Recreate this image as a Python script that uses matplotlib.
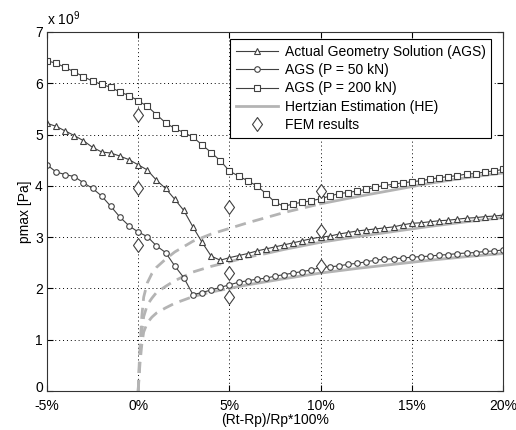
import numpy as np
import matplotlib
matplotlib.use("Agg")
import matplotlib.pyplot as plt
import matplotlib.transforms as mtrans
from matplotlib.lines import Line2D
from matplotlib.path import Path

plt.rcParams['font.family'] = ['Liberation Sans', 'DejaVu Sans']
plt.rcParams['mathtext.default'] = 'regular'

# x positions of the AGS points, in %
x_ags = np.arange(-5, 20.5, 0.5)

# AGS, P = 100 kN (triangles)
ags_100 = [5.22, 5.16, 5.07, 4.98, 4.88, 4.75, 4.66, 4.64, 4.58, 4.51,
           4.41, 4.31, 4.11, 3.95, 3.74, 3.52, 3.20, 2.90, 2.63, 2.55,
           2.60, 2.64, 2.68, 2.73, 2.77, 2.81, 2.85, 2.89, 2.93, 2.97,
           3.00, 3.02, 3.06, 3.09, 3.12, 3.14, 3.16, 3.18, 3.20, 3.24,
           3.27, 3.28, 3.30, 3.32, 3.33, 3.35, 3.37, 3.38, 3.40, 3.41, 3.43]
# AGS, P = 50 kN (circles)
ags_50 = [4.41, 4.27, 4.22, 4.18, 4.06, 3.95, 3.80, 3.60, 3.39, 3.22,
          3.10, 3.01, 2.83, 2.70, 2.44, 2.21, 1.88, 1.92, 1.97, 2.02,
          2.07, 2.12, 2.15, 2.18, 2.20, 2.24, 2.27, 2.30, 2.33, 2.36,
          2.41, 2.42, 2.44, 2.47, 2.49, 2.52, 2.55, 2.57, 2.58, 2.59,
          2.61, 2.62, 2.63, 2.65, 2.66, 2.68, 2.69, 2.70, 2.72, 2.73, 2.75]
# AGS, P = 200 kN (squares)
ags_200 = [6.44, 6.39, 6.31, 6.22, 6.13, 6.04, 5.98, 5.92, 5.83, 5.76,
           5.66, 5.55, 5.39, 5.23, 5.12, 5.04, 4.95, 4.80, 4.65, 4.49,
           4.29, 4.19, 4.10, 4.00, 3.85, 3.68, 3.60, 3.65, 3.68, 3.71,
           3.75, 3.80, 3.85, 3.87, 3.90, 3.93, 3.97, 4.01, 4.03, 4.06,
           4.08, 4.10, 4.13, 4.16, 4.18, 4.20, 4.23, 4.24, 4.27, 4.29, 4.32]

# Hertzian estimation
x_he = [0, 0.05, 0.1, 0.2, 0.3, 0.5, 0.75, 1, 1.5, 2, 3, 4, 5, 6, 7, 8,
        10, 12, 14, 16, 18, 20]
he_50 = [0, 0.30, 0.55, 0.92, 1.15, 1.33, 1.44, 1.52, 1.62, 1.71, 1.84,
         1.93, 2.00, 2.07, 2.13, 2.19, 2.30, 2.39, 2.47, 2.55, 2.62, 2.68]
he_100 = [0, 0.38, 0.69, 1.16, 1.45, 1.68, 1.81, 1.92, 2.04, 2.15, 2.32,
          2.43, 2.52, 2.61, 2.68, 2.76, 2.90, 3.01, 3.11, 3.21, 3.30, 3.38]
he_200 = [0, 0.48, 0.87, 1.46, 1.83, 2.11, 2.29, 2.41, 2.57, 2.71, 2.92,
          3.06, 3.17, 3.28, 3.38, 3.48, 3.65, 3.79, 3.92, 4.05, 4.16, 4.25]
# index in x_he where the dashed part ends (5%, 7%, 10%)
he_cut = [12, 14, 16]

# FEM results
x_fem = [0, 0, 0, 5, 5, 5, 10, 10, 10]
fem = [5.38, 3.96, 2.84, 3.58, 2.31, 1.84, 3.90, 3.11, 2.44]

scale = 1e9
dark = '#404040'
grey = '#b4b4b4'

# matlab-like diamond, a bit taller than wide
diamond = Path([(0, 1), (0.72, 0), (0, -1), (-0.72, 0), (0, 1)],
               [Path.MOVETO, Path.LINETO, Path.LINETO, Path.LINETO,
                Path.CLOSEPOLY])

fig = plt.figure(figsize=(5.16, 4.30), dpi=100)
ax = fig.add_axes([0.0911, 0.0907, 0.8837, 0.8349])

for he, cut in zip([he_50, he_100, he_200], he_cut):
    hv = np.array(he) * scale
    ax.plot(x_he[:cut + 1], hv[:cut + 1], color=grey, lw=2, ls=(0, (4, 2.5)))
    ax.plot(x_he[cut:], hv[cut:], color=grey, lw=2)

mk = dict(color=dark, lw=0.8, mfc='white', mec=dark, mew=0.8)
fem_mk = dict(ls='none', marker=diamond, ms=10, mfc='white', mec=dark, mew=0.8)
ax.plot(x_ags, np.array(ags_100) * scale, marker='^', ms=4.5, **mk)
ax.plot(x_ags, np.array(ags_50) * scale, marker='o', ms=4, **mk)
ax.plot(x_ags, np.array(ags_200) * scale, marker='s', ms=4, **mk)
ax.plot(x_fem, np.array(fem) * scale, **fem_mk)

ax.set_xlim(-5, 20)
ax.set_ylim(0, 7e9)
xt = [-5, 0, 5, 10, 15, 20]
ax.set_xticks(xt)
ax.set_xticklabels(['%d%%' % v for v in xt])
ax.set_yticks(np.arange(0, 8) * scale)
ax.set_yticklabels([str(v) for v in range(8)])
ax.tick_params(direction='in', top=True, right=True, labelsize=10,
               length=4, width=0.8, colors='black', pad=3)
ax.tick_params(axis='x', pad=6)
ax.grid(True, color='black', ls=(0, (1, 3)), lw=0.7)
for s in ax.spines.values():
    s.set_color('#333333')
    s.set_linewidth(0.8)

# raise the "0" label a little, as in the original
lab0 = ax.get_yticklabels()[0]
lab0.set_transform(lab0.get_transform() +
                   mtrans.ScaledTranslation(0, 3 / 72, fig.dpi_scale_trans))

ax.set_xlabel('(Rt-Rp)/Rp*100%', fontsize=10, labelpad=0)
ax.set_ylabel('pmax [Pa]', fontsize=10, labelpad=2)
ax.text(0.0, 1.012, 'x 10$^9$', transform=ax.transAxes, fontsize=10,
        ha='left', va='bottom')

handles = [
    Line2D([], [], marker='^', ms=4.5, **mk),
    Line2D([], [], marker='o', ms=4, **mk),
    Line2D([], [], marker='s', ms=4, **mk),
    Line2D([], [], color=grey, lw=2),
    Line2D([], [], **fem_mk),
]
labels = ['Actual Geometry Solution (AGS)', 'AGS (P = 50 kN)',
          'AGS (P = 200 kN)', 'Hertzian Estimation (HE)', 'FEM results']
leg = ax.legend(handles, labels, loc='upper right', fontsize=10,
                bbox_to_anchor=(0.9737, 0.9805),
                fancybox=False, framealpha=1, edgecolor='black',
                handlelength=3, handletextpad=0.5, borderpad=0.4,
                labelspacing=0.32, borderaxespad=0)
leg.get_frame().set_linewidth(0.8)

fig.savefig('out.png', dpi=100)
